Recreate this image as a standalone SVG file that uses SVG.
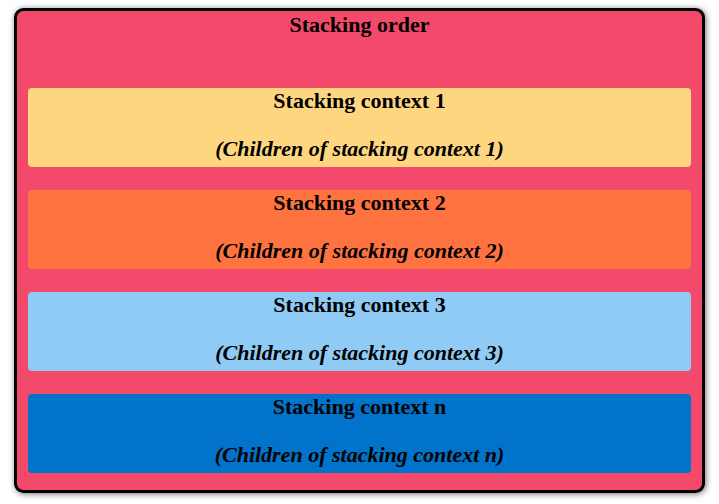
<svg xmlns="http://www.w3.org/2000/svg" width="719" height="504" viewBox="0 0 719 504">
<style>
text{font-family:"Liberation Serif","Times New Roman",serif;font-size:22px;font-weight:bold;fill:#000;text-anchor:middle}
.it{font-style:italic}
.box{stroke:none}
</style>
<defs>
<filter id="sh" x="-5%" y="-5%" width="110%" height="110%">
<feDropShadow dx="1" dy="1" stdDeviation="3" flood-color="#000" flood-opacity="0.55"/>
</filter>
</defs>
<rect width="719" height="504" fill="#fff"/>
<g id="stacking-order">
<rect x="15.5" y="9.5" width="688" height="482" rx="8" fill="#f3496b" stroke="#000" stroke-width="3" filter="url(#sh)"/>
<text x="359.5" y="31.5">Stacking order</text>
</g>
<g id="ctx1">
<rect class="box" x="28" y="88" width="663" height="79" rx="4" fill="#fed680"/>
<text x="359.5" y="108">Stacking context 1</text>
<text class="it" x="359.5" y="156">(Children of stacking context 1)</text>
</g>
<g id="ctx2">
<rect class="box" x="28" y="190" width="663" height="79" rx="4" fill="#fe733f"/>
<text x="359.5" y="210">Stacking context 2</text>
<text class="it" x="359.5" y="258">(Children of stacking context 2)</text>
</g>
<g id="ctx3">
<rect class="box" x="28" y="292" width="663" height="79" rx="4" fill="#8fcbf5"/>
<text x="359.5" y="312">Stacking context 3</text>
<text class="it" x="359.5" y="360">(Children of stacking context 3)</text>
</g>
<g id="ctxn">
<rect class="box" x="28" y="394" width="663" height="79" rx="4" fill="#0173cb"/>
<text x="359.5" y="414">Stacking context n</text>
<text class="it" x="359.5" y="462">(Children of stacking context n)</text>
</g>
<g id="connectors"/>
</svg>
